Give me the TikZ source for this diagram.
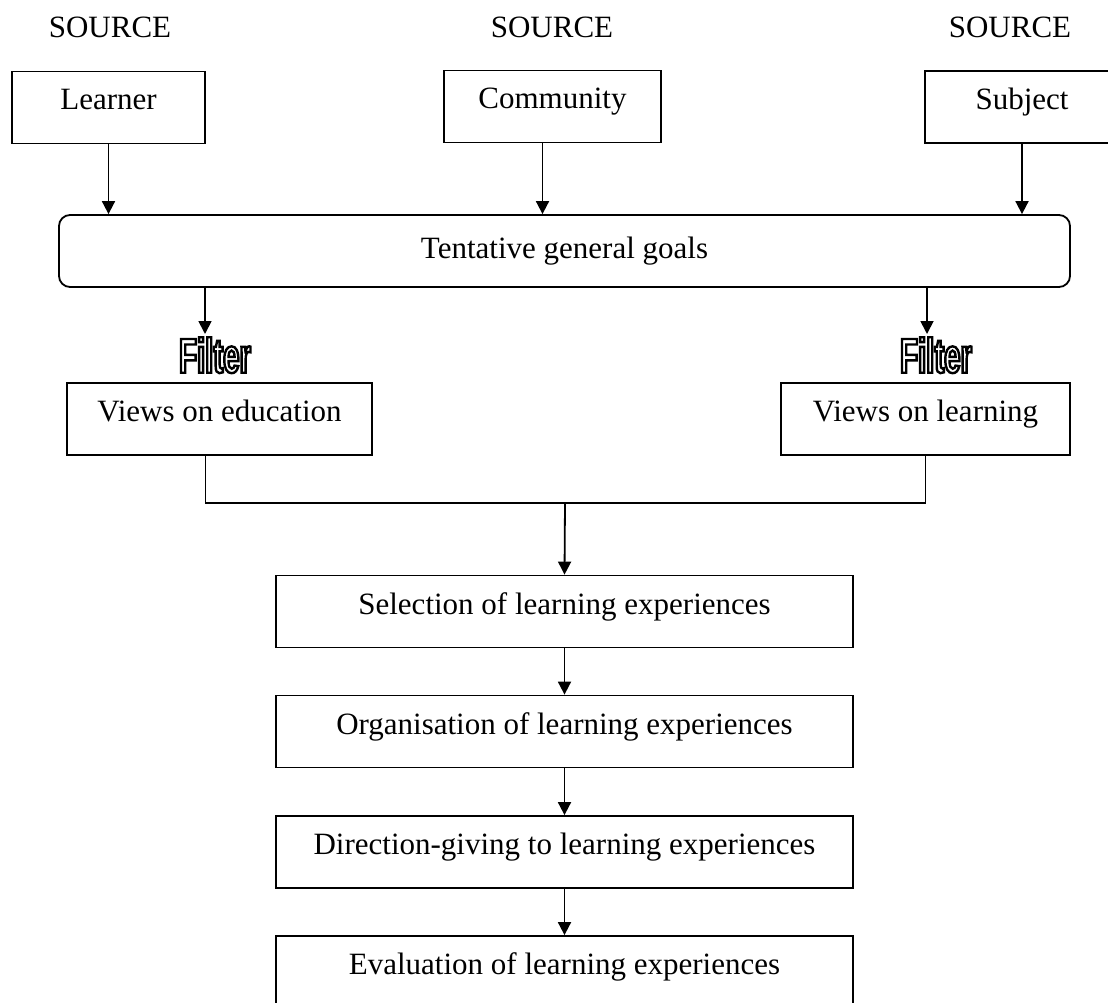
\documentclass[tikz,border=0pt]{standalone}
\usepackage{fontspec}
\setmainfont{Liberation Serif}
\newfontfamily\filterfont[FakeStretch=0.6]{Liberation Sans Bold}
\usetikzlibrary{arrows.meta}

% outlined lettering for the filter captions
\newcommand{\outlinedword}[1]{%
  \special{pdf:literal direct 1 Tr 2.4 w}#1\special{pdf:literal direct 0 Tr}}

\begin{document}
\begin{tikzpicture}[x=1pt,y=-1pt,
  box/.style={draw, line width=1.8pt, inner sep=0pt, minimum height=72pt,
              text height=21pt, text depth=16pt,
              font=\fontsize{31}{31}\selectfont},
  roundbox/.style={box, rounded corners=11pt, text height=24pt, text depth=10pt},
  srclabel/.style={anchor=base, inner sep=0pt, font=\fontsize{31}{31}\selectfont},
  filterlabel/.style={anchor=north, inner sep=0pt,
                      font=\filterfont\fontsize{49}{49}\selectfont},
  link/.style={line width=1.8pt},
  arr/.style={line width=1.8pt, -{Triangle[length=13pt,width=13pt]}}]

\useasboundingbox (0,0) rectangle (1108,1003);

% the three sources
\node[srclabel] (s1) at (110,38) {SOURCE};
\node[srclabel] (s2) at (552,38) {SOURCE};
\node[srclabel] (s3) at (1010,38) {SOURCE};

\node[box, minimum width=193pt] (learner)   at (108.5,107.5) {Learner};
\node[box, minimum width=217pt] (community) at (552.5,106.5) {Community};
\node[box, minimum width=194pt] (subject)   at (1022,107)    {Subject};

% goals
\node[roundbox, minimum width=1011pt] (goals) at (564.5,251) {Tentative general goals};

\draw[arr] (learner.south) -- (learner.south |- goals.north);
\draw[arr] ([xshift=-10pt]community.south) -- ([xshift=-10pt]community.south |- goals.north);
\draw[arr] (subject.south) -- (subject.south |- goals.north);

% filters
\node[filterlabel] (filt1) at (215,337) {\outlinedword{Filter}};
\node[filterlabel] (filt2) at (936,337) {\outlinedword{Filter}};
\coordinate (f1) at (205,334);
\coordinate (f2) at (927,334);
\draw[arr] (goals.south -| f1) -- (f1);
\draw[arr] (goals.south -| f2) -- (f2);

\node[box, minimum width=305pt] (vedu)   at (219.5,419) {Views on education};
\node[box, minimum width=289pt] (vlearn) at (925.5,419) {Views on learning};

% merge of the two views
\coordinate (join) at (565,503);
\draw[link] ([xshift=-14pt]vedu.south) |- (join) -| (vlearn.south);

% sequence of learning experiences
\node[box, minimum width=577pt] (sel)  at (564.5,611.5) {Selection of learning experiences};
\node[box, minimum width=577pt] (org)  at (564.5,731.5) {Organisation of learning experiences};
\node[box, minimum width=577pt] (dir)  at (564.5,852)   {Direction-giving to learning experiences};
\node[box, minimum width=577pt] (eval) at (564.5,972)   {Evaluation of learning experiences};

\draw[arr] (join) -- (sel.north);
\draw[arr] (sel.south) -- (org.north);
\draw[arr] (org.south) -- (dir.north);
\draw[arr] (dir.south) -- (eval.north);
\end{tikzpicture}
\end{document}
